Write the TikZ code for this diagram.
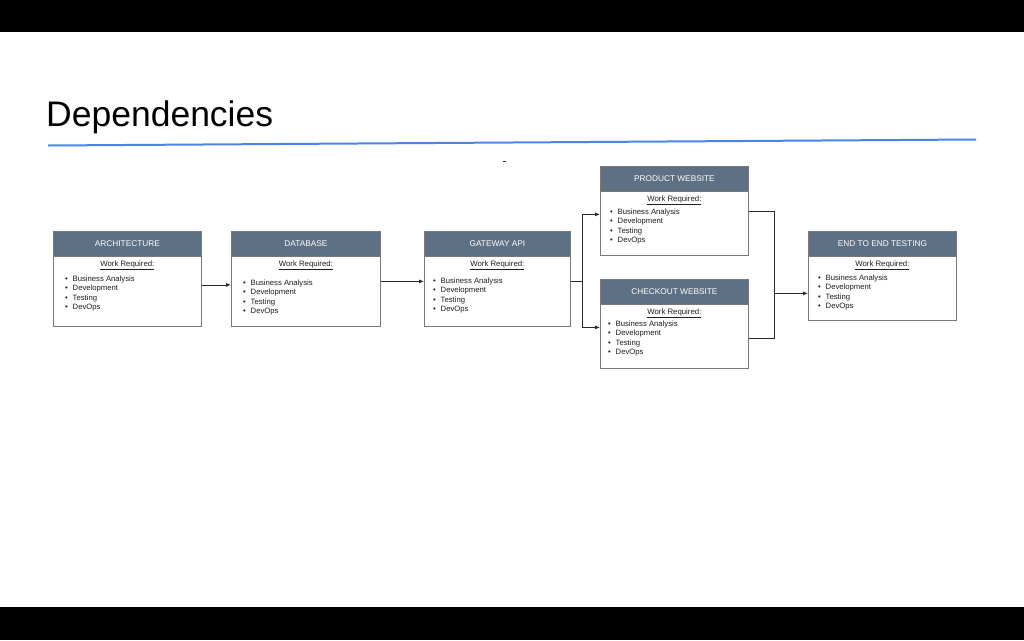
\documentclass[tikz,border=0pt]{standalone}
\usepackage{fontspec}
\setmainfont{Liberation Sans}
\usetikzlibrary{calc,arrows.meta}
\definecolor{headfill}{RGB}{94,112,132}
\definecolor{boxgray}{RGB}{120,120,120}
\definecolor{connc}{RGB}{40,40,40}
\definecolor{rule}{RGB}{74,134,232}
\definecolor{txt}{RGB}{30,30,30}
\tikzset{
  boxbody/.style={draw=boxgray, line width=0.8pt, rectangle, inner sep=0pt, anchor=north west},
  boxhead/.style={draw=boxgray, line width=0.8pt, fill=headfill, rectangle, inner sep=0pt, anchor=north west, minimum height=24.5pt, text=white, font=\fontsize{8.3}{10}\selectfont},
  wrtext/.style={inner sep=0pt, text=txt, font=\fontsize{7.8}{9}\selectfont},
  itemtext/.style={inner sep=0pt, anchor=west, text=txt, text height=5.5pt, text depth=1.5pt, font=\fontsize{7.7}{9}\selectfont},
  conn/.style={draw=connc, line width=0.8pt},
  arr/.style={conn, -{Latex[length=5pt,width=4pt]}}
}
% name, left, top, width, height, title, first item offset, bullet offset
\newcommand\mkdepbox[8]{%
  \node[boxbody, minimum width=#4pt, minimum height=#5pt] (#1) at (#2,#3) {};
  \node[boxhead, minimum width=#4pt] (#1-h) at (#2,#3) {#6};
  \node[wrtext] (#1-w) at ($(#1.north)+(0,34)$) {\underline{Work Required:}};
  \foreach \lbl [count=\i from 0] in {Business Analysis,Development,Testing,DevOps}{
    \node[itemtext] (#1-i\i) at ($(#1.north west)+(#8,#7+\i*9.5)$) {\makebox[7.5pt][l]{\textbullet}\lbl};
  }%
}
\begin{document}
\begin{tikzpicture}[x=1pt,y=-1pt]
\useasboundingbox (0,0) rectangle (1024,640);
\fill[white] (0,0) rectangle (1024,640);
\fill[black] (0,0) rectangle (1024,32);
\fill[black] (0,607) rectangle (1024,640);
\node[anchor=base west, inner sep=0pt, font=\fontsize{35.5}{42}\selectfont] (title) at (46,126) {Dependencies};
\coordinate (ruleL) at (48,145.5);
\coordinate (ruleR) at (976,139.5);
\draw[rule, line width=2pt] (ruleL) -- (ruleR);
\coordinate (dashA) at (503,161);
\coordinate (dashB) at (505.5,161);
\draw[line width=1pt, black!80] (dashA) -- (dashB);

\mkdepbox{arch}{53}{231}{148}{95}{ARCHITECTURE}{48}{12}
\mkdepbox{db}{231}{231}{149}{95}{DATABASE}{52}{12}
\mkdepbox{gw}{424}{231}{146}{95}{GATEWAY API}{50}{9}
\mkdepbox{prod}{600}{166}{148}{89}{PRODUCT WEBSITE}{46}{10}
\mkdepbox{chk}{600}{279}{148}{89}{CHECKOUT WEBSITE}{45}{8}
\mkdepbox{e2e}{808}{231}{148}{89}{END TO END TESTING}{47}{10}

\draw[arr] ($(arch.east)+(0,6)$) -- ($(db.west)+(0,6)$);
\draw[arr] ($(db.east)+(0,2.5)$) -- ($(gw.west)+(0,2.5)$);
\coordinate (split) at ($(gw.east)+(12,2.5)$);
\draw[conn] ($(gw.east)+(0,2.5)$) -- (split);
\draw[arr] (split) |- ($(prod.west)+(0,3.5)$);
\draw[arr] (split) |- ($(chk.west)+(0,3.5)$);
\coordinate (merge) at ($(e2e.west)+(-34,17.5)$);
\draw[conn] (prod.east) -| (merge);
\draw[conn] ($(chk.east)+(0,14.5)$) -| (merge);
\draw[arr] (merge) -- (e2e.west |- merge);
\end{tikzpicture}
\end{document}
